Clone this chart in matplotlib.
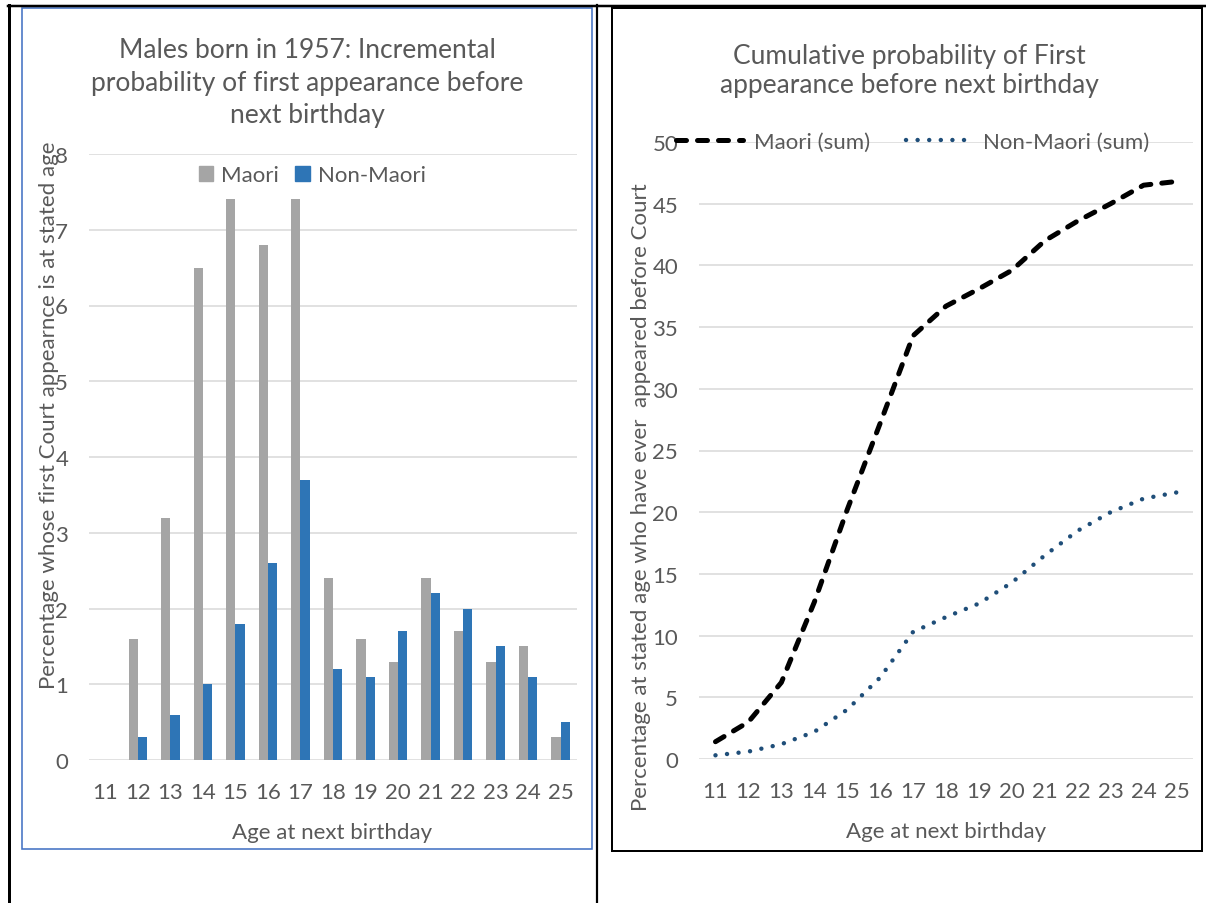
import matplotlib.pyplot as plt
from matplotlib.lines import Line2D
from matplotlib.patches import Patch, Rectangle
import numpy as np

W, H = 1206, 904
plt.rcParams["font.family"] = ["Lato", "DejaVu Sans"]

TEXT = "#595959"
GRID = "#D9D9D9"
GREY_BAR = "#A5A5A5"
BLUE_BAR = "#2E75B6"
NAVY = "#1F4E79"
FS = 16

AGES = list(range(11, 26))
MAORI = [0, 1.6, 3.2, 6.5, 7.4, 6.8, 7.4, 2.4, 1.6, 1.3, 2.4, 1.7, 1.3, 1.5, 0.3]
NON_MAORI = [0, 0.3, 0.6, 1.0, 1.8, 2.6, 3.7, 1.2, 1.1, 1.7, 2.2, 2.0, 1.5, 1.1, 0.5]
MAORI_SUM = [1.4, 3.0, 6.2, 12.7, 20.2, 27.2, 34.3, 36.7, 38.1, 39.6, 42.0, 43.6, 45.0, 46.5, 46.8]
NON_MAORI_SUM = [0.3, 0.6, 1.2, 2.2, 4.0, 6.6, 10.3, 11.5, 12.6, 14.3, 16.5, 18.5, 20.0, 21.1, 21.6]


def frac(x0, y0, x1, y1):
    # pixel box, origin top-left -> figure fraction rect
    return [x0 / W, 1 - y1 / H, (x1 - x0) / W, (y1 - y0) / H]


def hline(fig, x0, x1, y, color="black", lw=2.0):
    fig.add_artist(Line2D([x0 / W, x1 / W], [1 - y / H] * 2, color=color, lw=lw * 0.72))


def vline(fig, x, y0, y1, color="black", lw=2.0):
    fig.add_artist(Line2D([x / W] * 2, [1 - y0 / H, 1 - y1 / H], color=color, lw=lw * 0.72))


def box(fig, x0, y0, x1, y1, color, lw):
    fig.add_artist(Rectangle((x0 / W, 1 - y1 / H), (x1 - x0) / W, (y1 - y0) / H,
                             fill=False, edgecolor=color, lw=lw * 0.72))


def style(ax, ymax, step):
    ax.set_xlim(-0.5, len(AGES) - 0.5)
    ax.set_ylim(0, ymax)
    ax.set_yticks(np.arange(0, ymax + 0.01, step))
    ax.set_xticks(np.arange(len(AGES)), [str(a) for a in AGES])
    ax.grid(axis="y", color=GRID, lw=1.1)
    ax.set_axisbelow(True)
    for s in ax.spines.values():
        s.set_visible(False)
    ax.tick_params(length=0, labelsize=FS, labelcolor=TEXT)
    ax.tick_params(axis="y", pad=15)
    ax.tick_params(axis="x", pad=16)


fig = plt.figure(figsize=(W / 100, H / 100), dpi=100)

# outer table rules and chart borders
hline(fig, 8, W, 7, lw=2.5)
vline(fig, 9, 6, H, lw=3)
vline(fig, 597, 6, H, lw=2.2)
box(fig, 22, 9, 592, 850, "#4472C4", 1.6)
box(fig, 612, 9, 1202, 852, "black", 2.0)

# left: incremental bars
ax1 = fig.add_axes(frac(89, 155, 577, 761))
x = np.arange(len(AGES))
bw = 0.2857
ax1.bar(x - bw / 2, MAORI, bw, color=GREY_BAR, label="Maori")
ax1.bar(x + bw / 2, NON_MAORI, bw, color=BLUE_BAR, label="Non-Maori")
style(ax1, 8, 1)
ax1.set_ylabel("Percentage whose first Court appearnce is at stated age",
               fontsize=FS, color=TEXT)
ax1.yaxis.set_label_coords(-0.062, 0.571)
ax1.set_xlabel("Age at next birthday", fontsize=FS, color=TEXT)
ax1.xaxis.set_label_coords(0.498, -0.103)
ax1.legend(handles=[Patch(color=GREY_BAR, label="Maori"), Patch(color=BLUE_BAR, label="Non-Maori")],
           loc="center", bbox_to_anchor=(0.457, 0.965), ncol=2, frameon=False,
           fontsize=FS, labelcolor=TEXT, handlelength=0.65, handleheight=0.65,
           handletextpad=0.35, columnspacing=0.75)
fig.text(307 / W, 1 - 83 / H,
         "Males born in 1957: Incremental\nprobability of first appearance before\nnext birthday",
         ha="center", va="center", fontsize=19, color=TEXT, linespacing=1.38)

# right: cumulative lines
ax2 = fig.add_axes(frac(699, 143, 1193, 760))
ax2.plot(x, MAORI_SUM, color="black", lw=3.6, dashes=(2.0, 2.2),
         dash_capstyle="round", label="Maori (sum)")
ax2.plot(x, NON_MAORI_SUM, color=NAVY, lw=3.2, dashes=(0.01, 2.6),
         dash_capstyle="round", label="Non-Maori (sum)")
style(ax2, 50, 5)
ax2.set_ylabel("Percentage at stated age who have ever  appeared before Court",
               fontsize=FS, color=TEXT)
ax2.yaxis.set_label_coords(-0.098, 0.426)
ax2.set_xlabel("Age at next birthday", fontsize=FS, color=TEXT)
ax2.xaxis.set_label_coords(0.5, -0.101)
ax2.legend(loc="center", bbox_to_anchor=(0.433, 1.0), ncol=2, frameon=False,
           fontsize=FS, labelcolor=TEXT, handlelength=3.0, handletextpad=0.5,
           columnspacing=1.6)
fig.text(909 / W, 1 - 71 / H,
         "Cumulative probability of First\nappearance before next birthday",
         ha="center", va="center", fontsize=19, color=TEXT, linespacing=1.2)

fig.savefig("out.png", dpi=100, facecolor="white")
